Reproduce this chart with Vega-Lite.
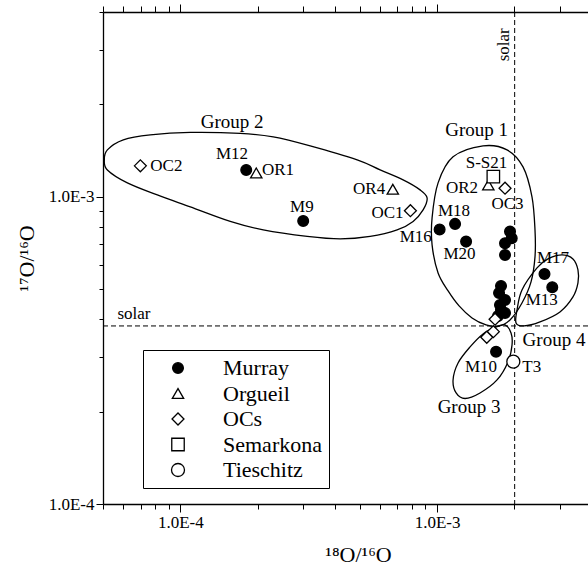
{
  "$schema": "https://vega.github.io/schema/vega-lite/v6.json",
  "width": 485,
  "height": 492,
  "autosize": {"type": "none"},
  "padding": {"left": 103, "top": 12, "right": 0, "bottom": 66},
  "background": "white",
  "config": {"view": {"stroke": null}, "font": "Liberation Serif",
    "legend": {"title": null, "orient": "none", "legendX": 40, "legendY": 338, "strokeColor": "black", "fillColor": "white", "padding": 7, "symbolOffset": 17, "symbolStrokeColor": "black", "symbolStrokeWidth": 1.3, "labelFont": "Liberation Serif", "labelFontSize": 22, "labelColor": "black", "labelOffset": 34, "rowPadding": 3.5}},
  "resolve": {"axis": {"x": "independent", "y": "independent"}},
  "layer": [
    {
      "data": {"values": [
        {"g": "G2", "i": 1, "x": 0.0000506, "y": 0.001320},
        {"g": "G2", "i": 2, "x": 0.0000520, "y": 0.001423},
        {"g": "G2", "i": 3, "x": 0.0000600, "y": 0.001534},
        {"g": "G2", "i": 4, "x": 0.0000764, "y": 0.001592},
        {"g": "G2", "i": 5, "x": 0.0001094, "y": 0.001622},
        {"g": "G2", "i": 6, "x": 0.0001712, "y": 0.001610},
        {"g": "G2", "i": 7, "x": 0.0002301, "y": 0.001568},
        {"g": "G2", "i": 8, "x": 0.0003205, "y": 0.001466},
        {"g": "G2", "i": 9, "x": 0.0004885, "y": 0.001320},
        {"g": "G2", "i": 10, "x": 0.0006001, "y": 0.001224},
        {"g": "G2", "i": 11, "x": 0.0007375, "y": 0.001136},
        {"g": "G2", "i": 12, "x": 0.0008586, "y": 0.001054},
        {"g": "G2", "i": 13, "x": 0.0009143, "y": 0.0009925},
        {"g": "G2", "i": 14, "x": 0.0008822, "y": 0.0009071},
        {"g": "G2", "i": 15, "x": 0.0008066, "y": 0.0008322},
        {"g": "G2", "i": 16, "x": 0.0006988, "y": 0.0007808},
        {"g": "G2", "i": 17, "x": 0.0005486, "y": 0.0007437},
        {"g": "G2", "i": 18, "x": 0.0004195, "y": 0.0007299},
        {"g": "G2", "i": 19, "x": 0.0003121, "y": 0.0007437},
        {"g": "G2", "i": 20, "x": 0.0002104, "y": 0.0007808},
        {"g": "G2", "i": 21, "x": 0.0001565, "y": 0.0008322},
        {"g": "G2", "i": 22, "x": 0.0001094, "y": 0.0009278},
        {"g": "G2", "i": 23, "x": 0.00008138, "y": 0.001015},
        {"g": "G2", "i": 24, "x": 0.00006219, "y": 0.001111},
        {"g": "G2", "i": 25, "x": 0.0000520, "y": 0.001224},
        {"g": "G1", "i": 1, "x": 0.001510, "y": 0.001466},
        {"g": "G1", "i": 2, "x": 0.001872, "y": 0.001423},
        {"g": "G1", "i": 3, "x": 0.002161, "y": 0.001252},
        {"g": "G1", "i": 4, "x": 0.002342, "y": 0.001000},
        {"g": "G1", "i": 5, "x": 0.002406, "y": 0.0007808},
        {"g": "G1", "i": 6, "x": 0.002406, "y": 0.0006377},
        {"g": "G1", "i": 7, "x": 0.002322, "y": 0.0005286},
        {"g": "G1", "i": 8, "x": 0.002141, "y": 0.0004515},
        {"g": "G1", "i": 9, "x": 0.001923, "y": 0.0003975},
        {"g": "G1", "i": 10, "x": 0.001727, "y": 0.0003786},
        {"g": "G1", "i": 11, "x": 0.001551, "y": 0.0003829},
        {"g": "G1", "i": 12, "x": 0.001368, "y": 0.0004035},
        {"g": "G1", "i": 13, "x": 0.001218, "y": 0.0004416},
        {"g": "G1", "i": 14, "x": 0.001104, "y": 0.0004941},
        {"g": "G1", "i": 15, "x": 0.001009, "y": 0.0005655},
        {"g": "G1", "i": 16, "x": 0.0009561, "y": 0.0006976},
        {"g": "G1", "i": 17, "x": 0.0009561, "y": 0.0008543},
        {"g": "G1", "i": 18, "x": 0.001009, "y": 0.001111},
        {"g": "G1", "i": 19, "x": 0.001154, "y": 0.001350},
        {"g": "G3", "i": 1, "x": 0.001839, "y": 0.0003829},
        {"g": "G3", "i": 2, "x": 0.001941, "y": 0.0003606},
        {"g": "G3", "i": 3, "x": 0.001958, "y": 0.0003295},
        {"g": "G3", "i": 4, "x": 0.001889, "y": 0.0002901},
        {"g": "G3", "i": 5, "x": 0.001712, "y": 0.0002535},
        {"g": "G3", "i": 6, "x": 0.001470, "y": 0.0002299},
        {"g": "G3", "i": 7, "x": 0.001285, "y": 0.0002206},
        {"g": "G3", "i": 8, "x": 0.001186, "y": 0.0002299},
        {"g": "G3", "i": 9, "x": 0.001154, "y": 0.0002535},
        {"g": "G3", "i": 10, "x": 0.001207, "y": 0.0002879},
        {"g": "G3", "i": 11, "x": 0.001344, "y": 0.0003247},
        {"g": "G3", "i": 12, "x": 0.001510, "y": 0.0003579},
        {"g": "G3", "i": 13, "x": 0.001697, "y": 0.0003772},
        {"g": "G4", "i": 1, "x": 0.002450, "y": 0.0005871},
        {"g": "G4", "i": 2, "x": 0.002703, "y": 0.0006281},
        {"g": "G4", "i": 3, "x": 0.003065, "y": 0.0006473},
        {"g": "G4", "i": 4, "x": 0.003382, "y": 0.0006281},
        {"g": "G4", "i": 5, "x": 0.003537, "y": 0.0005784},
        {"g": "G4", "i": 6, "x": 0.003537, "y": 0.0005247},
        {"g": "G4", "i": 7, "x": 0.003382, "y": 0.0004724},
        {"g": "G4", "i": 8, "x": 0.003010, "y": 0.0004221},
        {"g": "G4", "i": 9, "x": 0.002517, "y": 0.0003916},
        {"g": "G4", "i": 10, "x": 0.002180, "y": 0.0003800},
        {"g": "G4", "i": 11, "x": 0.002030, "y": 0.0003887},
        {"g": "G4", "i": 12, "x": 0.002048, "y": 0.0004284},
        {"g": "G4", "i": 13, "x": 0.002141, "y": 0.0004978}
      ]},
      "mark": {"type": "line", "interpolate": "cardinal-closed", "stroke": "black", "strokeWidth": 1.3},
      "encoding": {
        "x": {"field": "x", "type": "quantitative",
          "scale": {"type": "log", "domain": [0.00005, 0.00387], "nice": false},
          "axis": {"orient": "bottom",
            "values": [0.00005, 0.00006, 0.00007, 0.00008, 0.00009, 0.0001, 0.0002, 0.0003, 0.0004, 0.0005, 0.0006, 0.0007, 0.0008, 0.0009, 0.001, 0.002, 0.003],
            "labelExpr": "datum.value == 0.0001 ? '1.0E-4' : datum.value == 0.001 ? '1.0E-3' : ''",
            "labelOverlap": false, "labelFlush": false, "labelFont": "Liberation Serif", "labelFontSize": 17, "labelColor": "black", "labelPadding": 2,
            "tickColor": "black", "tickWidth": 1,
            "tickSize": {"condition": {"test": "datum.value == 0.0001 || datum.value == 0.001", "value": 8}, "value": 5},
            "domainColor": "black", "domainWidth": 1.3, "grid": false,
            "title": "¹⁸O/¹⁶O", "titleFont": "Liberation Serif", "titleFontSize": 22, "titleFontWeight": "normal", "titleColor": "black", "titlePadding": 14, "titleX": 255}},
        "y": {"field": "y", "type": "quantitative",
          "scale": {"type": "log", "domain": [0.0001, 0.004], "nice": false},
          "axis": {"orient": "left",
            "values": [0.0001, 0.0002, 0.0003, 0.0004, 0.0005, 0.0006, 0.0007, 0.0008, 0.0009, 0.001, 0.002, 0.003, 0.004],
            "labelExpr": "datum.value == 0.0001 ? '1.0E-4' : datum.value == 0.001 ? '1.0E-3' : ''",
            "labelOverlap": false, "labelFlush": false, "labelFont": "Liberation Serif", "labelFontSize": 17, "labelColor": "black", "labelPadding": 2,
            "tickColor": "black", "tickWidth": 1,
            "tickSize": {"condition": {"test": "datum.value == 0.0001 || datum.value == 0.001", "value": 7}, "value": 4},
            "domainColor": "black", "domainWidth": 1.3, "grid": false,
            "title": "¹⁷O/¹⁶O", "titleFont": "Liberation Serif", "titleFontSize": 22, "titleFontWeight": "normal", "titleColor": "black", "titlePadding": 10}},
        "detail": {"field": "g", "type": "nominal"},
        "order": {"field": "i", "type": "quantitative"}
      }
    },
    {
      "data": {"values": [{"sx": 0.002005}]},
      "mark": {"type": "rule", "strokeDash": [5, 3], "strokeWidth": 1, "color": "black"},
      "encoding": {
        "x": {"field": "sx", "type": "quantitative",
          "scale": {"type": "log", "domain": [0.00005, 0.00387], "nice": false},
          "axis": {"orient": "top",
            "values": [0.00005, 0.00006, 0.00007, 0.00008, 0.00009, 0.0001, 0.0002, 0.0003, 0.0004, 0.0005, 0.0006, 0.0007, 0.0008, 0.0009, 0.001, 0.002, 0.003],
            "labels": false, "title": null, "grid": false,
            "tickColor": "black", "tickWidth": 1,
            "tickSize": {"condition": {"test": "datum.value == 0.0001 || datum.value == 0.001", "value": 8}, "value": 6},
            "domainColor": "black", "domainWidth": 1.3}}
      }
    },
    {
      "data": {"values": [{"sy": 0.00038}]},
      "mark": {"type": "rule", "strokeDash": [5, 3], "strokeWidth": 1, "color": "black"},
      "encoding": {
        "y": {"field": "sy", "type": "quantitative",
          "scale": {"type": "log", "domain": [0.0001, 0.004], "nice": false}, "axis": null}
      }
    },
    {
      "data": {"values": [
        {"src": "Murray", "x": 0.0001806, "y": 0.001224},
        {"src": "Murray", "x": 0.000301, "y": 0.0008353},
        {"src": "Murray", "x": 0.001023, "y": 0.0007837},
        {"src": "Murray", "x": 0.001175, "y": 0.0008168},
        {"src": "Murray", "x": 0.001297, "y": 0.0007151},
        {"src": "Murray", "x": 0.001923, "y": 0.0007709},
        {"src": "Murray", "x": 0.001953, "y": 0.0007336},
        {"src": "Murray", "x": 0.001839, "y": 0.0007066},
        {"src": "Murray", "x": 0.001839, "y": 0.0006473},
        {"src": "Murray", "x": 0.00262, "y": 0.0005613},
        {"src": "Murray", "x": 0.002809, "y": 0.0005081},
        {"src": "Murray", "x": 0.001774, "y": 0.000513},
        {"src": "Murray", "x": 0.001743, "y": 0.0004868},
        {"src": "Murray", "x": 0.001839, "y": 0.0004619},
        {"src": "Murray", "x": 0.001758, "y": 0.0004449},
        {"src": "Murray", "x": 0.001774, "y": 0.0004284},
        {"src": "Murray", "x": 0.001839, "y": 0.0004189},
        {"src": "Murray", "x": 0.001727, "y": 0.0004096},
        {"src": "Murray", "x": 0.001697, "y": 0.0003134},
        {"src": "Orgueil", "x": 0.0001976, "y": 0.001197},
        {"src": "Orgueil", "x": 0.0006723, "y": 0.001059},
        {"src": "Orgueil", "x": 0.001583, "y": 0.001094},
        {"src": "OCs", "x": 0.00006989, "y": 0.001262},
        {"src": "OCs", "x": 0.0007872, "y": 0.0009017},
        {"src": "OCs", "x": 0.001839, "y": 0.001067},
        {"src": "OCs", "x": 0.001682, "y": 0.0003996},
        {"src": "OCs", "x": 0.001656, "y": 0.0003641},
        {"src": "OCs", "x": 0.001561, "y": 0.0003491},
        {"src": "Semarkona", "x": 0.001656, "y": 0.001164},
        {"src": "Tieschitz", "x": 0.001981, "y": 0.0002907}
      ]},
      "mark": {"type": "point", "filled": true, "strokeWidth": 1.3, "opacity": 1},
      "encoding": {
        "x": {"field": "x", "type": "quantitative", "scale": {"type": "log", "domain": [0.00005, 0.00387], "nice": false}, "axis": null},
        "y": {"field": "y", "type": "quantitative", "scale": {"type": "log", "domain": [0.0001, 0.004], "nice": false}, "axis": null},
        "shape": {"field": "src", "type": "nominal",
          "scale": {"domain": ["Murray", "Orgueil", "OCs", "Semarkona", "Tieschitz"], "range": ["circle", "triangle-up", "diamond", "square", "circle"]}},
        "fill": {"field": "src", "type": "nominal",
          "scale": {"domain": ["Murray", "Orgueil", "OCs", "Semarkona", "Tieschitz"], "range": ["black", "white", "white", "white", "white"]}},
        "stroke": {"field": "src", "type": "nominal",
          "scale": {"domain": ["Murray", "Orgueil", "OCs", "Semarkona", "Tieschitz"], "range": ["black", "black", "black", "black", "black"]}},
        "size": {"field": "src", "type": "nominal",
          "scale": {"domain": ["Murray", "Orgueil", "OCs", "Semarkona", "Tieschitz"], "range": [115, 169, 180, 130, 130]}}
      }
    },
    {
      "data": {"values": [
        {"t": "Group 2", "x": 0.0001593, "y": 0.001754},
        {"t": "Group 1", "x": 0.001425, "y": 0.001652},
        {"t": "Group 4", "x": 0.002853, "y": 0.000342},
        {"t": "Group 3", "x": 0.001332, "y": 0.0002075}
      ]},
      "mark": {"type": "text", "font": "Liberation Serif", "fontSize": 19, "align": "center", "baseline": "middle", "color": "black"},
      "encoding": {
        "x": {"field": "x", "type": "quantitative", "scale": {"type": "log", "domain": [0.00005, 0.00387], "nice": false}, "axis": null},
        "y": {"field": "y", "type": "quantitative", "scale": {"type": "log", "domain": [0.0001, 0.004], "nice": false}, "axis": null},
        "text": {"field": "t", "type": "nominal"}
      }
    },
    {
      "data": {"values": [
        {"t": "M12", "x": 0.0001589, "y": 0.00138},
        {"t": "M9", "x": 0.0002974, "y": 0.00093},
        {"t": "M18", "x": 0.001164, "y": 0.0009},
        {"t": "M20", "x": 0.001223, "y": 0.000652},
        {"t": "S-S21", "x": 0.001558, "y": 0.001288},
        {"t": "OC3", "x": 0.00188, "y": 0.000949},
        {"t": "M17", "x": 0.002827, "y": 0.000631},
        {"t": "M13", "x": 0.002555, "y": 0.000462},
        {"t": "M10", "x": 0.001483, "y": 0.00028},
        {"t": "T3", "x": 0.002336, "y": 0.00028}
      ]},
      "mark": {"type": "text", "font": "Liberation Serif", "fontSize": 17, "align": "center", "baseline": "middle", "color": "black"},
      "encoding": {
        "x": {"field": "x", "type": "quantitative", "scale": {"type": "log", "domain": [0.00005, 0.00387], "nice": false}, "axis": null},
        "y": {"field": "y", "type": "quantitative", "scale": {"type": "log", "domain": [0.0001, 0.004], "nice": false}, "axis": null},
        "text": {"field": "t", "type": "nominal"}
      }
    },
    {
      "data": {"values": [
        {"t": "OC2", "x": 0.0000764, "y": 0.001262},
        {"t": "OR1", "x": 0.000208, "y": 0.001224},
        {"t": "solar", "x": 0.0000569, "y": 0.000416}
      ]},
      "mark": {"type": "text", "font": "Liberation Serif", "fontSize": 17, "align": "left", "baseline": "middle", "color": "black"},
      "encoding": {
        "x": {"field": "x", "type": "quantitative", "scale": {"type": "log", "domain": [0.00005, 0.00387], "nice": false}, "axis": null},
        "y": {"field": "y", "type": "quantitative", "scale": {"type": "log", "domain": [0.0001, 0.004], "nice": false}, "axis": null},
        "text": {"field": "t", "type": "nominal"}
      }
    },
    {
      "data": {"values": [
        {"t": "OR4", "x": 0.000628, "y": 0.001062},
        {"t": "OC1", "x": 0.00074, "y": 0.000885},
        {"t": "M16", "x": 0.000954, "y": 0.000742},
        {"t": "OR2", "x": 0.001444, "y": 0.001067}
      ]},
      "mark": {"type": "text", "font": "Liberation Serif", "fontSize": 17, "align": "right", "baseline": "middle", "color": "black"},
      "encoding": {
        "x": {"field": "x", "type": "quantitative", "scale": {"type": "log", "domain": [0.00005, 0.00387], "nice": false}, "axis": null},
        "y": {"field": "y", "type": "quantitative", "scale": {"type": "log", "domain": [0.0001, 0.004], "nice": false}, "axis": null},
        "text": {"field": "t", "type": "nominal"}
      }
    },
    {
      "data": {"values": [
        {"t": "solar", "x": 0.001822, "y": 0.003127}
      ]},
      "mark": {"type": "text", "font": "Liberation Serif", "fontSize": 17, "align": "center", "baseline": "middle", "angle": 270, "color": "black"},
      "encoding": {
        "x": {"field": "x", "type": "quantitative", "scale": {"type": "log", "domain": [0.00005, 0.00387], "nice": false}, "axis": null},
        "y": {"field": "y", "type": "quantitative", "scale": {"type": "log", "domain": [0.0001, 0.004], "nice": false}, "axis": null},
        "text": {"field": "t", "type": "nominal"}
      }
    }
  ]
}
